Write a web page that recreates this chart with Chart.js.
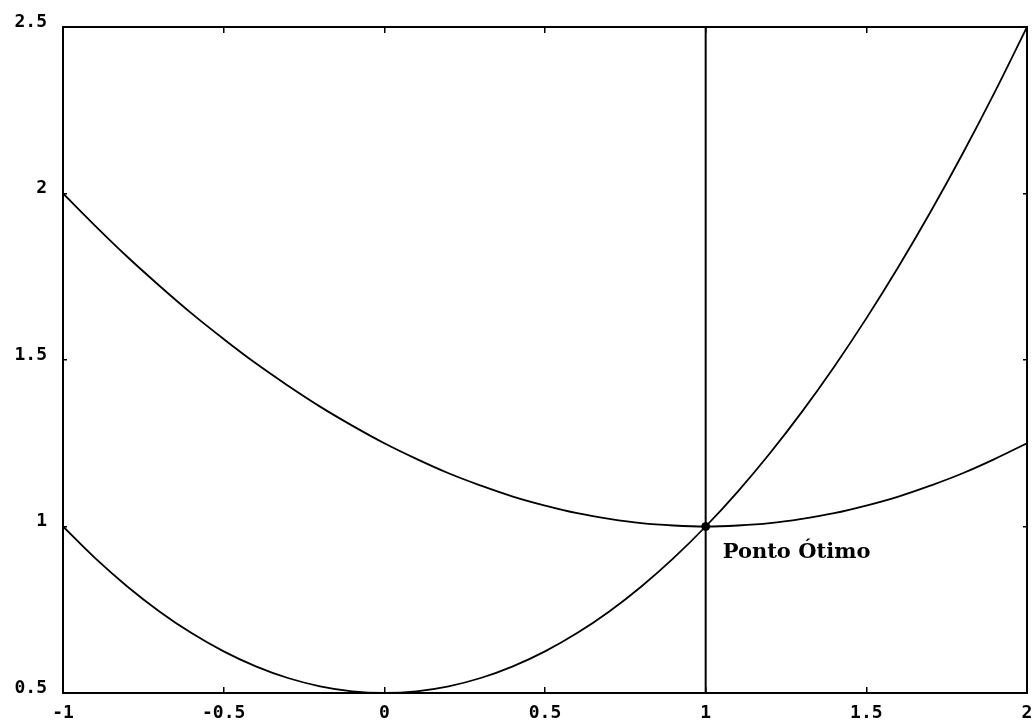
<!DOCTYPE html>
<html>
<head>
<meta charset="utf-8">
<script src="https://cdn.jsdelivr.net/npm/chart.js@4"></script>
<style>
  html, body { margin: 0; padding: 0; background: #fff; }
  canvas { display: block; }
</style>
</head>
<body>
<canvas id="otimoChart" width="1032" height="723"></canvas>
<script>
// valores
const xs = [-1, -0.9, -0.8, -0.7, -0.6, -0.5, -0.4, -0.3, -0.2, -0.1, 0,
            0.1, 0.2, 0.3, 0.4, 0.5, 0.6, 0.7, 0.8, 0.9, 1,
            1.1, 1.2, 1.3, 1.4, 1.5, 1.6, 1.7, 1.8, 1.9, 2];
const curvaSuperior = [2.0, 1.903, 1.81, 1.723, 1.64, 1.563, 1.49, 1.423, 1.36, 1.303, 1.25,
                       1.203, 1.16, 1.123, 1.09, 1.063, 1.04, 1.023, 1.01, 1.003, 1.0,
                       1.003, 1.01, 1.023, 1.04, 1.063, 1.09, 1.123, 1.16, 1.203, 1.25];
const curvaInferior = [1.0, 0.905, 0.82, 0.745, 0.68, 0.625, 0.58, 0.545, 0.52, 0.505, 0.5,
                       0.505, 0.52, 0.545, 0.58, 0.625, 0.68, 0.745, 0.82, 0.905, 1.0,
                       1.105, 1.22, 1.345, 1.48, 1.625, 1.78, 1.945, 2.12, 2.305, 2.5];
const linhaVertical = { x: [1, 1], y: [0.5, 2.5] };
const pontoOtimo = { x: 1, y: 1, label: 'Ponto Ótimo' };

const xTicks = ['-1', '-0.5', '0', '0.5', '1', '1.5', '2'];
const yTicks = ['0.5', '1', '1.5', '2', '2.5'];
const xMin = -1, xMax = 2, yMin = 0.5, yMax = 2.5;

const pts = (a, b) => a.map((v, i) => ({ x: v, y: b[i] }));

const tickFont = { family: 'DejaVu Sans Mono', size: 18, weight: 'bold' };

// texto "Ponto Ótimo"
const rotuloPlugin = {
    id: 'rotulo',
    afterDatasetsDraw(chart) {
        const c = chart.ctx;
        const px = chart.scales.x.getPixelForValue(pontoOtimo.x);
        const py = chart.scales.y.getPixelForValue(pontoOtimo.y);
        c.save();
        c.fillStyle = '#000';
        c.font = 'bold 21px "DejaVu Serif"';
        c.textAlign = 'left';
        c.textBaseline = 'middle';
        c.fillText(pontoOtimo.label, px + 17, py + 26);
        c.restore();
    }
};

const bgPlugin = {
    id: 'bg',
    beforeDraw(chart) {
        const c = chart.ctx;
        c.save();
        c.fillStyle = '#fff';
        c.fillRect(0, 0, chart.width, chart.height);
        c.restore();
    }
};

const curva = (vals) => ({
    data: pts(xs, vals),
    showLine: true,
    borderColor: '#000',
    borderWidth: 1.8,
    pointRadius: 0,
    tension: 0.4
});

const ctx = document.getElementById('otimoChart').getContext('2d');
new Chart(ctx, {
    type: 'scatter',
    data: {
        datasets: [
            curva(curvaSuperior),
            curva(curvaInferior),
            {
                data: pts(linhaVertical.x, linhaVertical.y),
                showLine: true,
                borderColor: '#000',
                borderWidth: 2,
                pointRadius: 0
            },
            {
                data: [{ x: pontoOtimo.x, y: pontoOtimo.y }],
                pointRadius: 4,
                pointBackgroundColor: '#000',
                pointBorderColor: '#000'
            }
        ]
    },
    options: {
        responsive: false,
        animation: false,
        layout: { padding: { top: 27, right: 5, left: 0, bottom: 0 } },
        plugins: {
            legend: { display: false },
            tooltip: { enabled: false }
        },
        scales: {
            x: {
                type: 'linear',
                position: 'bottom',
                min: xMin, max: xMax,
                afterBuildTicks: (axis) => { axis.ticks = xTicks.map(v => ({ value: Number(v) })); },
                ticks: {
                    color: '#000',
                    font: tickFont,
                    padding: 16,
                    maxRotation: 0,
                    autoSkip: false,
                    callback: (v) => xTicks.find(t => Number(t) === v)
                },
                grid: { drawOnChartArea: false, drawTicks: true, tickLength: -6, color: '#000', lineWidth: 1.5 },
                border: { display: true, color: '#000', width: 2 },
                afterFit: (axis) => { axis.height = 30; axis.paddingRight = 5; axis.paddingLeft = 12; }
            },
            x2: {
                type: 'linear',
                position: 'top',
                min: xMin, max: xMax,
                afterBuildTicks: (axis) => { axis.ticks = xTicks.map(v => ({ value: Number(v) })); },
                ticks: { display: false },
                grid: { drawOnChartArea: false, drawTicks: true, tickLength: -6, color: '#000', lineWidth: 1.5 },
                border: { display: true, color: '#000', width: 2 },
                afterFit: (axis) => { axis.height = 0; axis.paddingRight = 0; axis.paddingLeft = 0; }
            },
            y: {
                type: 'linear',
                position: 'left',
                min: yMin, max: yMax,
                afterBuildTicks: (axis) => { axis.ticks = yTicks.map(v => ({ value: Number(v) })); },
                ticks: {
                    color: '#000',
                    font: tickFont,
                    padding: 20,
                    labelOffset: -5,
                    autoSkip: false,
                    callback: (v) => yTicks.find(t => Number(t) === v)
                },
                grid: { drawOnChartArea: false, drawTicks: true, tickLength: -4, color: '#000', lineWidth: 1.5 },
                border: { display: true, color: '#000', width: 2 },
                afterFit: (axis) => { axis.width = 63; axis.paddingTop = 15; axis.paddingBottom = 0; }
            },
            y2: {
                type: 'linear',
                position: 'right',
                min: yMin, max: yMax,
                afterBuildTicks: (axis) => { axis.ticks = yTicks.map(v => ({ value: Number(v) })); },
                ticks: { display: false },
                grid: { drawOnChartArea: false, drawTicks: true, tickLength: -4, color: '#000', lineWidth: 1.5 },
                border: { display: true, color: '#000', width: 2 },
                afterFit: (axis) => { axis.width = 0; axis.paddingTop = 0; axis.paddingBottom = 0; }
            }
        }
    },
    plugins: [bgPlugin, rotuloPlugin]
});
</script>
</body>
</html>
